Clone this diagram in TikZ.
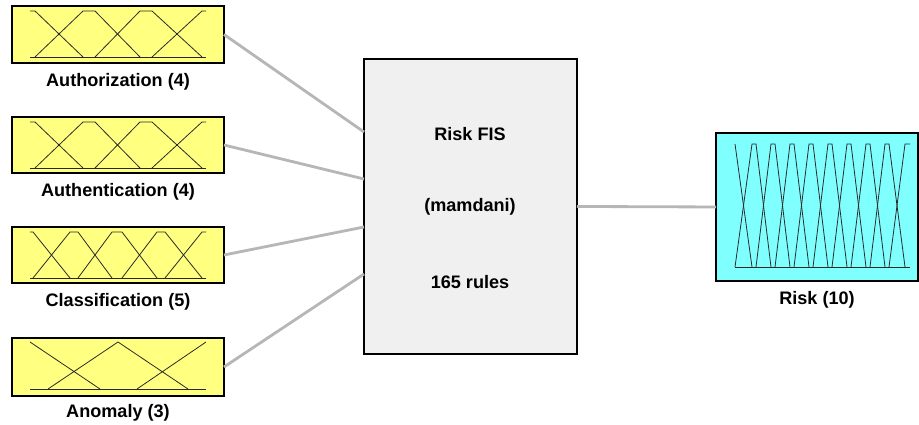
\documentclass[tikz,border=0pt]{standalone}
\usepackage{fontspec}
\setmainfont{Liberation Sans}
\usetikzlibrary{calc}
\definecolor{inyellow}{RGB}{255,255,128}
\definecolor{outcyan}{RGB}{128,255,255}
\definecolor{fisgray}{RGB}{240,240,240}
\definecolor{linkgray}{RGB}{182,182,182}
\definecolor{mfline}{RGB}{40,40,40}
\tikzset{
	varbox/.style={draw=black, line width=1.1pt, inner sep=0pt, outer sep=0pt, anchor=north west},
	mf/.style={draw=mfline, line width=0.45pt},
	link/.style={draw=linkgray, line width=1.6pt},
	varlabel/.style={font=\fontsize{10.3}{12}\selectfont\bfseries},
}

\begin{document}
\begin{tikzpicture}[x=0.02cm, y=-0.02cm]
			%%%%% START %%%%%
			\useasboundingbox (0, 0) rectangle (919, 425);
			
			% input variables
			\node[varbox, fill=inyellow, minimum width=4.24cm, minimum height=1.14cm] (authz) at (12, 6) {};
			\node[varbox, fill=inyellow, minimum width=4.24cm, minimum height=1.12cm] (authn) at (12, 117) {};
			\node[varbox, fill=inyellow, minimum width=4.24cm, minimum height=1.12cm] (classif) at (12, 227) {};
			\node[varbox, fill=inyellow, minimum width=4.24cm, minimum height=1.16cm] (anomaly) at (12, 338) {};
			
			\node[varlabel] (authzlbl) at (118, 82) {Authorization (4)};
			\node[varlabel] (authnlbl) at (118, 192) {Authentication (4)};
			\node[varlabel] (classiflbl) at (118, 302) {Classification (5)};
			\node[varlabel] (anomalylbl) at (118, 413) {Anomaly (3)};
			
			% fis block
			\node[varbox, fill=fisgray, minimum width=4.26cm, minimum height=5.9cm] (fis) at (364, 59) {};
			\node[varlabel] (fisname) at (470, 134) {Risk FIS};
			\node[varlabel] (fistype) at (470, 207) {(mamdani)};
			\node[varlabel] (fisrules) at (470, 282) {165 rules};
			
			% output variable
			\node[varbox, fill=outcyan, minimum width=4.04cm, minimum height=2.96cm] (risk) at (716, 133) {};
			\node[varlabel] (risklbl) at (817, 300) {Risk (10)};
			
			% connections
			\coordinate (fisin1) at (364, 132);
			\coordinate (fisin2) at (364, 179);
			\coordinate (fisin3) at (364, 227);
			\coordinate (fisin4) at (364, 274);
			\draw[link] (authz.east) -- (fisin1);
			\draw[link] (authn.east) -- (fisin2);
			\draw[link] (classif.east) -- (fisin3);
			\draw[link] (anomaly.east) -- (fisin4);
			\draw[link] (fis.east) -- (risk.west);
			
			% Authorization mfs
			\draw[mf] (30, 57) -- (206, 57);
			\draw[mf] (30, 11) -- (35, 11) -- (83, 57);
			\draw[mf] (35, 57) -- (83, 11) -- (95, 11) -- (140, 57);
			\draw[mf] (95, 57) -- (140, 11) -- (152, 11) -- (202, 57);
			\draw[mf] (152, 57) -- (202, 11) -- (206, 11);
			
			% Authentication mfs
			\draw[mf] (30, 168) -- (206, 168);
			\draw[mf] (30, 122) -- (35, 122) -- (83, 168);
			\draw[mf] (35, 168) -- (83, 122) -- (95, 122) -- (140, 168);
			\draw[mf] (95, 168) -- (140, 122) -- (152, 122) -- (202, 168);
			\draw[mf] (152, 168) -- (202, 122) -- (206, 122);
			
			% Classification mfs
			\draw[mf] (30, 278) -- (206, 278);
			\draw[mf] (30, 232) -- (33, 232) -- (70, 278);
			\draw[mf] (33, 278) -- (70, 232) -- (78, 232) -- (112, 278);
			\draw[mf] (78, 278) -- (112, 232) -- (122, 232) -- (157, 278);
			\draw[mf] (122, 278) -- (157, 232) -- (165, 232) -- (202, 278);
			\draw[mf] (165, 278) -- (202, 232) -- (206, 232);
			
			% Anomaly mfs
			\draw[mf] (30, 389) -- (206, 389);
			\draw[mf] (30, 342) -- (100, 389);
			\draw[mf] (48, 389) -- (118, 342) -- (188, 389);
			\draw[mf] (137, 389) -- (206, 342);
			
			% Risk mfs
			\draw[mf] (735, 267) -- (910, 267);
			\draw[mf] (735, 144) -- (752, 267);
			\draw[mf] (735, 267) -- (752, 144) -- (756, 144) -- (771, 267);
			\draw[mf] (756, 267) -- (771, 144) -- (775, 144) -- (790, 267);
			\draw[mf] (775, 267) -- (790, 144) -- (794, 144) -- (809, 267);
			\draw[mf] (794, 267) -- (809, 144) -- (813, 144) -- (828, 267);
			\draw[mf] (813, 267) -- (828, 144) -- (832, 144) -- (847, 267);
			\draw[mf] (832, 267) -- (847, 144) -- (851, 144) -- (866, 267);
			\draw[mf] (851, 267) -- (866, 144) -- (870, 144) -- (885, 267);
			\draw[mf] (870, 267) -- (885, 144) -- (889, 144) -- (905, 267);
			\draw[mf] (889, 267) -- (905, 144) -- (910, 144);
			
			%%%%% END %%%%%
\end{tikzpicture}
\end{document}
